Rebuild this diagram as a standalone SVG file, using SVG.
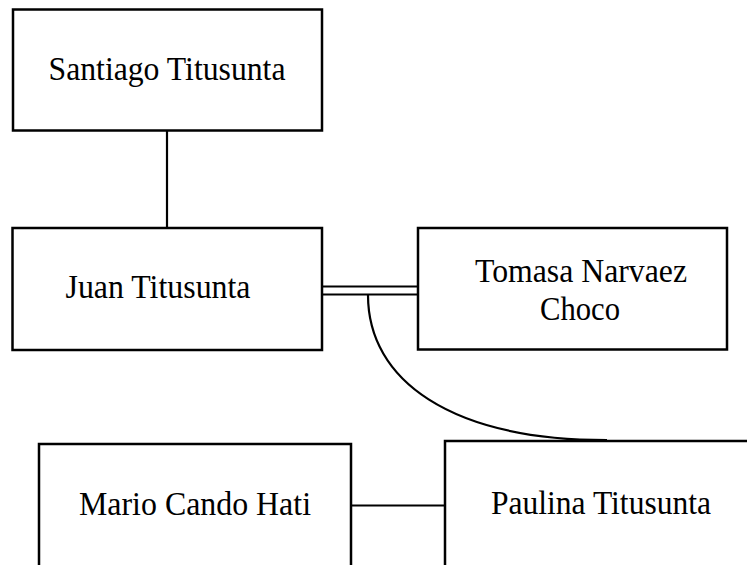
<svg xmlns="http://www.w3.org/2000/svg" width="747" height="565" viewBox="0 0 747 565">
<style>
.box{fill:#fff;stroke:#000;stroke-width:2.5}
.t{font-family:"Liberation Serif","Times New Roman",serif;font-size:34px;fill:#000;text-anchor:middle}
.c{fill:none;stroke:#000;stroke-width:2.2}
</style>
<rect width="747" height="565" fill="#fff"/>
<g id="connectors">
<line class="c" x1="167" y1="130" x2="167" y2="228"/>
<line class="c" x1="322" y1="286.5" x2="418" y2="286.5"/>
<line class="c" x1="322" y1="294.5" x2="418" y2="294.5"/>
<path class="c" d="M368,295 C368,380 450,440 607,440"/>
<line class="c" x1="351" y1="505.5" x2="445" y2="505.5"/>
</g>
<g id="santiago">
<rect class="box" x="13" y="9.5" width="309" height="121"/>
<text class="t" x="167" y="80" textLength="237" lengthAdjust="spacingAndGlyphs">Santiago Titusunta</text>
</g>
<g id="juan">
<rect class="box" x="12.5" y="228" width="309.5" height="122"/>
<text class="t" x="158" y="298" textLength="185" lengthAdjust="spacingAndGlyphs">Juan Titusunta</text>
</g>
<g id="tomasa">
<rect class="box" x="418" y="228" width="309" height="121.5"/>
<text class="t" x="581" y="282" textLength="212" lengthAdjust="spacingAndGlyphs">Tomasa Narvaez</text>
<text class="t" x="580" y="320" textLength="80" lengthAdjust="spacingAndGlyphs">Choco</text>
</g>
<g id="mario">
<rect class="box" x="39" y="444" width="312" height="140"/>
<text class="t" x="195" y="515" textLength="232" lengthAdjust="spacingAndGlyphs">Mario Cando Hati</text>
</g>
<g id="paulina">
<rect class="box" x="445" y="441" width="320" height="140"/>
<text class="t" x="601" y="514" textLength="220" lengthAdjust="spacingAndGlyphs">Paulina Titusunta</text>
</g>
</svg>
